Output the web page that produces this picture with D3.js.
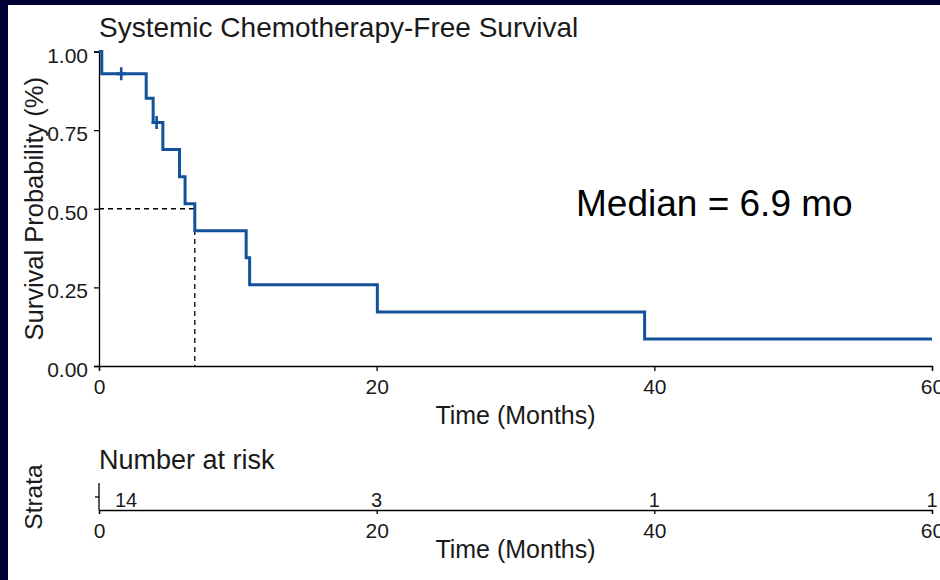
<!DOCTYPE html>
<html>
<head>
<meta charset="utf-8">
<script src="https://cdn.jsdelivr.net/npm/d3@7"></script>
<style>
  html, body { margin: 0; padding: 0; background: #000034; }
  svg { display: block; }
  text { font-family: "Liberation Sans", Arial, sans-serif; }
</style>
</head>
<body>
<svg id="chart" width="940" height="580"></svg>
<script>
// Kaplan-Meier estimate: step times (months) and survival probability after each step
const stepTimes = [0, 0.2, 3.4, 3.9, 4.6, 5.8, 6.2, 6.9, 10.6, 10.85, 20.05, 39.3, 60];
const stepSurvival = [1.000, 0.929, 0.851, 0.774, 0.688, 0.602, 0.516, 0.430, 0.344, 0.258, 0.172, 0.086, 0.086];

// Censored observations
const censorTimes = [1.6, 4.15];
const censorSurvival = [0.929, 0.774];

// Median survival
const medianTime = 6.9;
const medianProb = 0.5;

// Axis ticks
const timeTicks = [0, 20, 40, 60];
const probTicks = [0, 0.25, 0.5, 0.75, 1];
const probTickLabels = ["0.00", "0.25", "0.50", "0.75", "1.00"];

// Number at risk table
const riskTimes = [0, 20, 40, 60];
const riskCounts = [14, 3, 1, 1];

const svg = d3.select("#chart");
const curveColor = "#13529b";
const textColor = "#1a1a1a";

// White panel on the navy slide background
svg.append("rect").attr("x", 8).attr("y", 5).attr("width", 932).attr("height", 575).attr("fill", "#ffffff");

const x = d3.scaleLinear().domain([0, 60]).range([99, 932]);
const y = d3.scaleLinear().domain([0, 1]).range([366, 51.5]);

// Title
svg.append("text").attr("x", 99).attr("y", 37)
  .attr("font-size", 28).attr("fill", textColor)
  .text("Systemic Chemotherapy-Free Survival");

// Axes
const xAxis = svg.append("g").attr("transform", `translate(0,${y(0)})`)
  .call(d3.axisBottom(x).tickValues(timeTicks).tickSize(5).tickFormat(d3.format("d")));
const yAxis = svg.append("g").attr("transform", `translate(${x(0)},0)`)
  .call(d3.axisLeft(y).tickValues(probTicks).tickSize(5).tickFormat((d, i) => probTickLabels[i]));

[xAxis, yAxis].forEach(g => {
  g.select(".domain").attr("stroke", "#000").attr("stroke-width", 1.3);
  g.selectAll(".tick line").attr("stroke", "#000").attr("stroke-width", 1.3);
  g.selectAll(".tick text").attr("fill", textColor).attr("font-size", 21)
    .attr("font-family", "Liberation Sans, Arial, sans-serif");
});
xAxis.selectAll(".tick text").attr("y", 13.5).attr("dy", "0.71em");
yAxis.selectAll(".tick text").attr("x", -11).attr("dy", "0.5em");

// Axis titles
svg.append("text").attr("x", (x(0) + x(60)) / 2).attr("y", 424)
  .attr("text-anchor", "middle").attr("font-size", 25).attr("fill", textColor)
  .text("Time (Months)");
svg.append("text")
  .attr("transform", `translate(42.5,${(y(0) + y(1)) / 2}) rotate(-90)`)
  .attr("text-anchor", "middle").attr("font-size", 25.5).attr("fill", textColor)
  .text("Survival Probability (%)");

// Median reference lines
const medianPath = d3.path();
medianPath.moveTo(x(0), y(medianProb));
medianPath.lineTo(x(medianTime), y(medianProb));
medianPath.lineTo(x(medianTime), y(0));
svg.append("path").attr("d", medianPath.toString())
  .attr("fill", "none").attr("stroke", "#000").attr("stroke-width", 1.3)
  .attr("stroke-dasharray", "5,4");

// Survival curve
const kmData = stepTimes.map((t, i) => ({ t, s: stepSurvival[i] }));
const line = d3.line().x(d => x(d.t)).y(d => y(d.s)).curve(d3.curveStepAfter);
svg.append("path").datum(kmData).attr("d", line)
  .attr("fill", "none").attr("stroke", curveColor).attr("stroke-width", 3);

// Censor marks
const censorData = censorTimes.map((t, i) => ({ t, s: censorSurvival[i] }));
svg.append("g").selectAll("path").data(censorData).join("path")
  .attr("d", d => `M${x(d.t) - 5},${y(d.s)}H${x(d.t) + 5}M${x(d.t)},${y(d.s) - 6.5}V${y(d.s) + 6.5}`)
  .attr("stroke", curveColor).attr("stroke-width", 2.6).attr("fill", "none");

// Median annotation
svg.append("text").attr("x", 576).attr("y", 216)
  .attr("font-size", 37).attr("fill", "#000")
  .text(`Median = ${medianTime} mo`);

// ---- Number at risk table ----
const riskBase = 510;
const riskRow = 497;

svg.append("text").attr("x", 99).attr("y", 469)
  .attr("font-size", 27).attr("fill", textColor)
  .text("Number at risk");

const riskAxis = svg.append("g").attr("transform", `translate(0,${riskBase})`)
  .call(d3.axisBottom(x).tickValues(timeTicks).tickSize(4).tickFormat(d3.format("d")));
riskAxis.select(".domain").attr("stroke", "#000").attr("stroke-width", 1.3);
riskAxis.selectAll(".tick line").attr("stroke", "#000").attr("stroke-width", 1.3);
riskAxis.selectAll(".tick text").attr("fill", textColor).attr("font-size", 21)
  .attr("font-family", "Liberation Sans, Arial, sans-serif")
  .attr("y", 13).attr("dy", "0.71em");

// Strata axis: vertical line with a single tick
svg.append("line").attr("x1", x(0)).attr("x2", x(0)).attr("y1", 483).attr("y2", riskBase)
  .attr("stroke", "#000").attr("stroke-width", 1.3);
svg.append("line").attr("x1", x(0) - 4).attr("x2", x(0)).attr("y1", riskRow).attr("y2", riskRow)
  .attr("stroke", "#000").attr("stroke-width", 1.3);

svg.append("g").selectAll("text").data(riskTimes).join("text")
  .attr("x", (d, i) => x(d) + (i === 0 ? 27 : 0))
  .attr("y", 506.5)
  .attr("text-anchor", "middle").attr("font-size", 20).attr("fill", textColor)
  .text((d, i) => riskCounts[i]);

svg.append("text")
  .attr("transform", `translate(42,${riskRow}) rotate(-90)`)
  .attr("text-anchor", "middle").attr("font-size", 24.5).attr("fill", textColor)
  .text("Strata");

svg.append("text").attr("x", (x(0) + x(60)) / 2).attr("y", 558)
  .attr("text-anchor", "middle").attr("font-size", 25).attr("fill", textColor)
  .text("Time (Months)");
</script>
</body>
</html>
